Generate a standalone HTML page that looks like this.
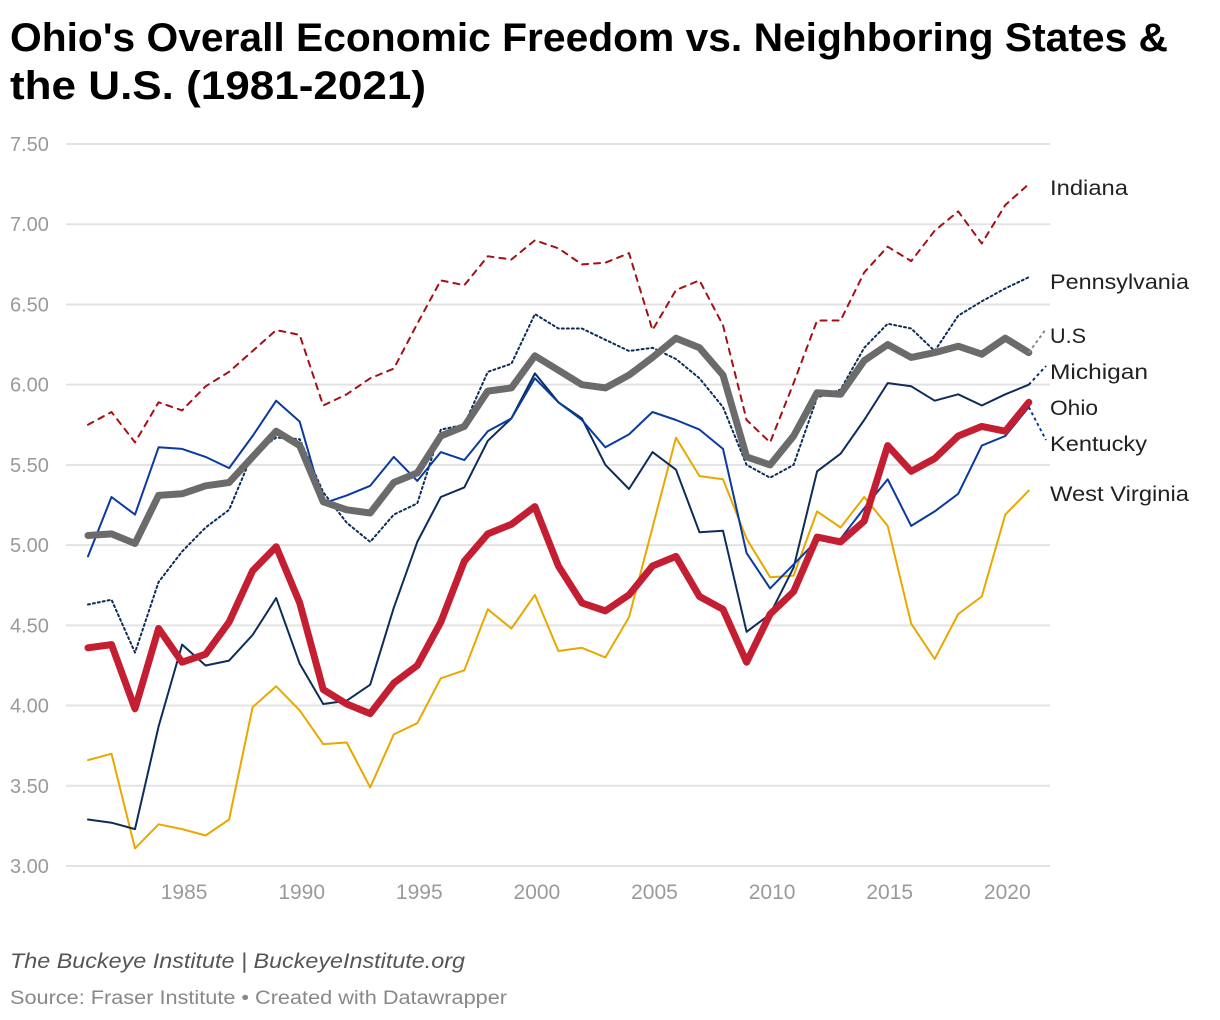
<!DOCTYPE html>
<html><head><meta charset="utf-8"><style>
html,body{margin:0;padding:0;background:#fff;}
svg{display:block;font-family:"Liberation Sans",sans-serif;}
</style></head><body>
<svg id="chart" width="1220" height="1020" viewBox="0 0 1220 1020">
<text x="10" y="51" font-size="40" font-weight="bold" fill="#000" textLength="1158" lengthAdjust="spacingAndGlyphs">Ohio's Overall Economic Freedom vs. Neighboring States &amp;</text>
<text x="10" y="99" font-size="40" font-weight="bold" fill="#000" textLength="416" lengthAdjust="spacingAndGlyphs">the U.S. (1981-2021)</text>
<g id="grid"></g><g id="series"></g><g id="labels"></g>
<text x="10" y="968" font-size="21" font-style="italic" fill="#555" textLength="455" lengthAdjust="spacingAndGlyphs">The Buckeye Institute | BuckeyeInstitute.org</text>
<text x="10" y="1004" font-size="19" fill="#888" textLength="497" lengthAdjust="spacingAndGlyphs">Source: Fraser Institute • Created with Datawrapper</text>
</svg>
<script>
const years=[];for(let y=1981;y<=2021;y++)years.push(y);
const yTicks=[3.00,3.50,4.00,4.50,5.00,5.50,6.00,6.50,7.00,7.50];
const xTicks=[1985,1990,1995,2000,2005,2010,2015,2020];
const ohio=[4.36,4.38,3.98,4.48,4.27,4.32,4.52,4.84,4.99,4.64,4.10,4.01,3.95,4.14,4.25,4.52,4.90,5.07,5.13,5.24,4.87,4.64,4.59,4.69,4.87,4.93,4.68,4.60,4.27,4.57,4.71,5.05,5.02,5.15,5.62,5.46,5.54,5.68,5.74,5.71,5.89];
const us=[5.06,5.07,5.01,5.31,5.32,5.37,5.39,5.55,5.71,5.62,5.27,5.22,5.20,5.39,5.45,5.68,5.74,5.96,5.98,6.18,6.09,6.00,5.98,6.06,6.17,6.29,6.23,6.06,5.55,5.50,5.68,5.95,5.94,6.15,6.25,6.17,6.20,6.24,6.19,6.29,6.20];
const indiana=[5.75,5.83,5.64,5.89,5.84,5.99,6.08,6.21,6.34,6.31,5.87,5.94,6.04,6.10,6.38,6.65,6.62,6.80,6.78,6.90,6.85,6.75,6.76,6.82,6.34,6.59,6.65,6.37,5.78,5.64,6.01,6.40,6.40,6.70,6.86,6.77,6.96,7.08,6.88,7.12,7.25];
const pennsylvania=[4.63,4.66,4.33,4.77,4.96,5.11,5.22,5.57,5.67,5.66,5.33,5.14,5.02,5.19,5.26,5.72,5.75,6.08,6.13,6.44,6.35,6.35,6.28,6.21,6.23,6.16,6.04,5.86,5.50,5.42,5.50,5.92,5.97,6.23,6.38,6.35,6.21,6.43,6.52,6.60,6.67];
const michigan=[3.29,3.27,3.23,3.87,4.38,4.25,4.28,4.44,4.67,4.26,4.01,4.03,4.13,4.61,5.02,5.30,5.36,5.65,5.79,6.07,5.89,5.79,5.50,5.35,5.58,5.47,5.08,5.09,4.46,4.57,4.86,5.46,5.57,5.78,6.01,5.99,5.90,5.94,5.87,5.94,6.00];
const kentucky=[4.93,5.30,5.19,5.61,5.60,5.55,5.48,5.68,5.90,5.77,5.26,5.31,5.37,5.55,5.40,5.58,5.53,5.71,5.79,6.04,5.89,5.78,5.61,5.69,5.83,5.78,5.72,5.60,4.95,4.73,4.88,5.03,5.04,5.23,5.41,5.12,5.21,5.32,5.62,5.68,5.86];
const westVirginia=[3.66,3.70,3.11,3.26,3.23,3.19,3.29,3.99,4.12,3.97,3.76,3.77,3.49,3.82,3.89,4.17,4.22,4.60,4.48,4.69,4.34,4.36,4.30,4.55,5.11,5.67,5.43,5.41,5.04,4.80,4.81,5.21,5.11,5.30,5.12,4.51,4.29,4.57,4.68,5.19,5.34];

const NS="http://www.w3.org/2000/svg";
const X=y=>88+(y-1981)*23.52;
const Y=v=>866-(v-3)*160.44;
function mk(tag,attrs,parent){const e=document.createElementNS(NS,tag);for(const k in attrs)e.setAttribute(k,attrs[k]);parent.appendChild(e);return e;}
const grid=document.getElementById('grid'),ser=document.getElementById('series'),lab=document.getElementById('labels');
yTicks.forEach(t=>{
  const l=mk('line',{x1:66,x2:1050,y1:Y(t),y2:Y(t),stroke:'#e3e3e3','stroke-width':2},grid);
  
  
  const tx=mk('text',{x:10,y:Y(t)+7,'font-size':20,fill:'#9a9a9a'},grid);
  
  
  tx.textContent=t.toFixed(2);
});
xTicks.forEach(t=>{
  const tx=mk('text',{x:X(t)+2,y:899,'font-size':21,fill:'#9a9a9a','text-anchor':'middle'},grid);
  
  
  tx.textContent=t;
});
function line(data,stroke,w,dash,name){
  const d=data.map((v,i)=>(i?'L':'M')+X(years[i]).toFixed(1)+','+Y(v).toFixed(1)).join('');
  const p=mk('path',{d:d,fill:'none',stroke:stroke,'stroke-width':w,'stroke-linejoin':'round','stroke-linecap':'round'},ser);
  if(dash)p.setAttribute('stroke-dasharray',dash);
  
  
  return p;
}
line(westVirginia,'#e8a800',2,null,'west-virginia-line');
line(indiana,'#a50f15',2,'6,6','indiana-line');
line(pennsylvania,'#0c2d5a',2,'2,3','pennsylvania-line');
line(michigan,'#0c2d5a',2,null,'michigan-line');
line(kentucky,'#0a3aa0',2,null,'kentucky-line');
line(us,'#6b6b6b',7,null,'us-line');
line(ohio,'#c41e32',7,null,'ohio-line');
function conn(data,ty,stroke,name){
  const c=mk('line',{x1:X(2021),y1:Y(data[data.length-1]),x2:1046,y2:ty,stroke:stroke,'stroke-width':2,'stroke-dasharray':'3,3'},ser);
  
  
}
conn(us,329,'#888','us-label-connector');
conn(michigan,366,'#0c2d5a','michigan-label-connector');
conn(kentucky,440,'#0a3aa0','kentucky-label-connector');
const labels=[['Indiana',188,78],['Pennsylvania',282,139],['U.S',336,36],['Michigan',372,98],['Ohio',408,48],['Kentucky',444,97],['West Virginia',494,139]];
labels.forEach(([t,y,w])=>{
  const tx=mk('text',{x:1050,y:y+7,'font-size':21,fill:'#222',textLength:w,lengthAdjust:'spacingAndGlyphs'},lab);
  
  
  tx.textContent=t;
});
</script>
</body></html>
